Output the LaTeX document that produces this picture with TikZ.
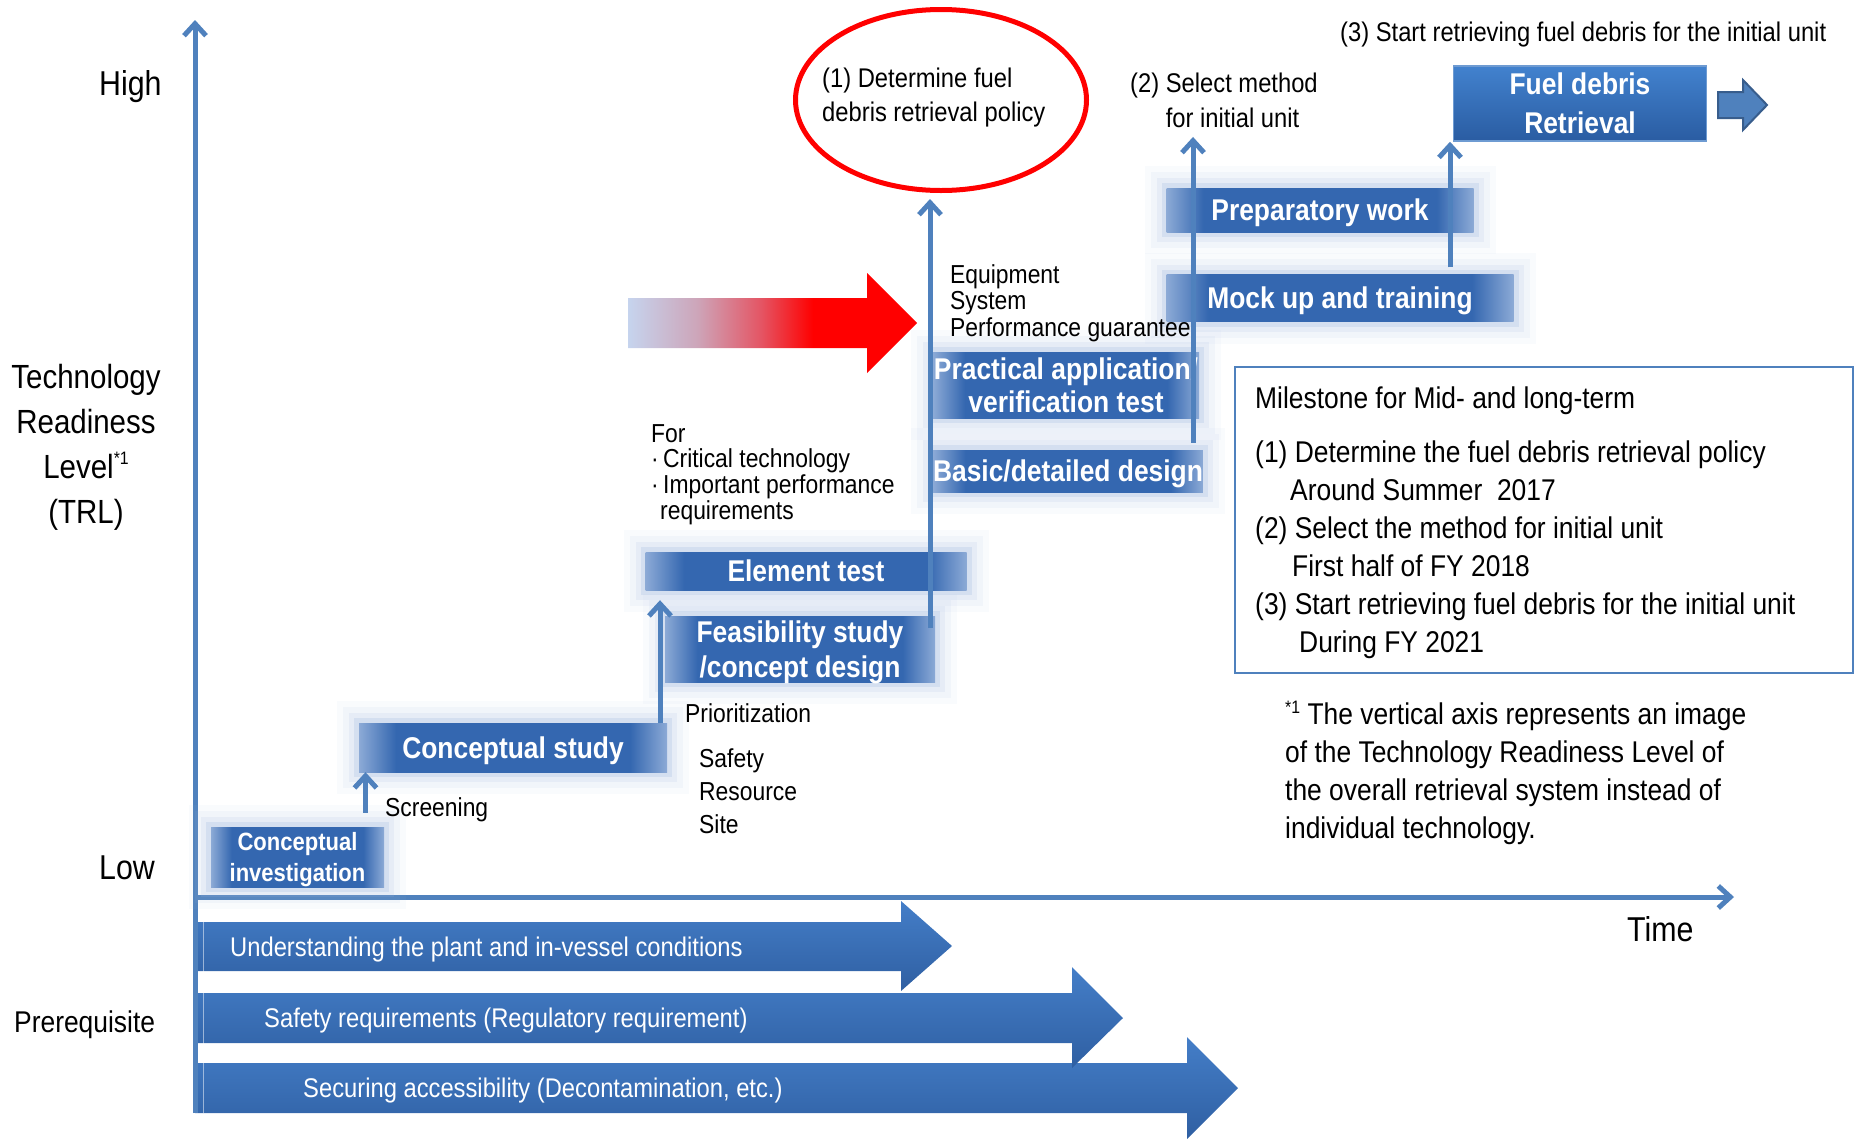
\documentclass[tikz,border=0pt]{standalone}
\usepackage{fontspec}
\setmainfont{Liberation Sans}[FakeStretch=0.88]
\usepackage{tikz}
\usetikzlibrary{arrows.meta,shapes.geometric}
\definecolor{axisblue}{RGB}{79,129,189}
\definecolor{barhi}{RGB}{68,126,200}
\definecolor{barlo}{RGB}{47,95,162}
\definecolor{stagecore}{RGB}{52,103,176}
\definecolor{stageedge}{RGB}{140,170,214}
\definecolor{stageglow}{RGB}{160,184,222}
\definecolor{fdtop}{RGB}{66,130,206}
\definecolor{fdbot}{RGB}{42,92,162}
\definecolor{fdline}{RGB}{110,155,210}
\definecolor{arrowline}{RGB}{56,93,140}
\definecolor{fadeblue}{RGB}{198,212,238}
\definecolor{fadepink}{RGB}{205,165,185}
\definecolor{fadered}{RGB}{228,85,100}
\pgfdeclarehorizontalshading{stagefade}{100bp}{color(0bp)=(stageedge); color(25bp)=(stageedge); color(31bp)=(stagecore); color(69bp)=(stagecore); color(75bp)=(stageedge); color(100bp)=(stageedge)}
\pgfdeclarehorizontalshading{redfade}{100bp}{color(0bp)=(fadeblue); color(25bp)=(fadeblue); color(37bp)=(fadepink); color(48bp)=(fadered); color(57bp)=(red); color(100bp)=(red)}
\newcommand\fsz[2]{\fontsize{#1}{#2}\selectfont}

\begin{document}
\begin{tikzpicture}[x=1pt, y=-1pt,
    txt/.style={inner sep=0pt, text depth=0pt, align=left},
    flow/.style={axisblue, line width=5pt, -{Straight Barb[length=12pt,width=22pt]}},
    stage/.style={shade, shading=stagefade, text=white, align=center, inner sep=0pt,
        text depth=0pt, font=\bfseries\fsz{30}{36},
        preaction={draw=stageglow, line width=44pt, draw opacity=0.06},
        preaction={draw=stageglow, line width=32pt, draw opacity=0.09},
        preaction={draw=stageglow, line width=20pt, draw opacity=0.14},
        preaction={draw=stageglow, line width=10pt, draw opacity=0.25}}]
    \useasboundingbox (0,0) rectangle (1855,1138);

    \shade[top color=barhi, bottom color=barlo] (195,1063) -- (1187,1063) -- (1187,1037) -- (1238,1088) -- (1187,1139) -- (1187,1113) -- (195,1113) -- cycle;
    \shade[top color=barhi, bottom color=barlo] (195,993) -- (1072,993) -- (1072,967) -- (1123,1018) -- (1072,1068) -- (1072,1043) -- (195,1043) -- cycle;
    \shade[top color=barhi, bottom color=barlo] (195,922) -- (901,922) -- (901,901) -- (952,946) -- (901,991) -- (901,971) -- (195,971) -- cycle;
    \draw[white, opacity=0.5, line width=1pt] (203,922) -- (203,1113);
    \node[txt, anchor=west, text=white, font=\fsz{27}{32}] (b1) at (230,947) {Understanding the plant and in-vessel conditions};
    \node[txt, anchor=west, text=white, font=\fsz{27}{32}] (b2) at (264,1018) {Safety requirements (Regulatory requirement)};
    \node[txt, anchor=west, text=white, font=\fsz{27}{32}] (b3) at (303,1088) {Securing accessibility (Decontamination, etc.)};

    \coordinate (o) at (195,897);
    \coordinate (ybot) at (195,1113);
    \coordinate (ytop) at (195,20);
    \coordinate (xend) at (1734,897);
    \draw[flow] (ybot) -- (ytop);
    \draw[flow] (o) -- (xend);

    \node[txt, anchor=west, font=\fsz{34.5}{40}] (high) at (99,83) {High};
    \node[txt, anchor=west, font=\fsz{34.5}{40}] (low) at (99,868) {Low};
    \node[txt, anchor=west, font=\fsz{34.5}{40}] (time) at (1627,929) {Time};
    \node[txt, anchor=west, font=\fsz{30}{36}] (pre) at (14,1022) {Prerequisite};
    \node[txt, anchor=north, align=center, font=\fsz{33.5}{45}] (trl) at (86,364) {Technology\\Readiness\\Level\raisebox{14pt}{\fsz{18}{18}*1}\\(TRL)};

    \shade[shading=redfade] (628,298) -- (867,298) -- (867,273) -- (917,323) -- (867,373) -- (867,348) -- (628,348) -- cycle;

    \node[stage, minimum width=173pt, minimum height=60pt, font=\bfseries\fsz{25}{31}] (ci) at (297.5,857) {Conceptual\\investigation};
    \node[stage, minimum width=308pt, minimum height=49pt] (cs) at (513,747.5) {Conceptual study};
    \node[stage, minimum width=270pt, minimum height=66pt, font=\bfseries\fsz{30}{35}] (fs) at (800,649) {Feasibility study\\/concept design};
    \node[stage, minimum width=321pt, minimum height=38pt] (et) at (806,571) {Element test};
    \node[stage, minimum width=266pt, minimum height=66pt, font=\bfseries\fsz{30}{33}] (pa) at (1066,385) {Practical application/\\verification test};
    \node[stage, minimum width=266pt, minimum height=42pt] (bd) at (1068,471) {Basic/detailed design};
    \node[stage, minimum width=307pt, minimum height=44pt] (pw) at (1320,210) {Preparatory work};
    \node[stage, minimum width=347pt, minimum height=47pt] (mt) at (1340,298) {Mock up and training};

    \node[draw=fdline, line width=1.5pt, top color=fdtop, bottom color=fdbot, minimum width=253pt, minimum height=75pt,
        inner sep=0pt, text depth=0pt, align=center, text=white, font=\bfseries\fsz{30}{39}] (fd) at (1580,103.5) {Fuel debris\\Retrieval};
    \draw[fill=axisblue, draw=arrowline, line width=2pt] (1718,92) -- (1743,92) -- (1743,80) -- (1767,105) -- (1743,130) -- (1743,118) -- (1718,118) -- cycle;

    \node[ellipse, draw=red, line width=5pt, minimum width=291pt, minimum height=181pt, inner sep=0pt] (pol) at (941,100) {};
    \node[txt, anchor=north west, font=\fsz{27}{34}] (poltxt) at (822,67.5) {(1) Determine fuel\\debris retrieval policy};
    \node[txt, anchor=north west, font=\fsz{27}{35}] (sel) at (1130,73) {(2) Select method\\\phantom{(2) }for initial unit};
    \node[txt, anchor=north west, font=\fsz{27}{32}] (start) at (1340,22) {(3) Start retrieving fuel debris for the initial unit};

    \node[txt, anchor=west, font=\fsz{26}{30}] (scr) at (385,807) {Screening};
    \node[txt, anchor=west, font=\fsz{26}{30}] (prio) at (685,713) {Prioritization};
    \node[txt, anchor=north west, font=\fsz{26}{33}] (crit) at (699,748) {Safety\\Resource\\Site};
    \node[txt, anchor=north west, font=\fsz{26}{25.7}] (for) at (651,424) {For\\·\,Critical technology\\·\,Important performance\\\hspace*{9pt}requirements};
    \node[txt, anchor=north west, font=\fsz{26}{26.5}] (equip) at (950,264) {Equipment\\System\\Performance guarantee};

    \draw[flow, shorten <=14pt] ([xshift=68pt]ci.north) -- ([xshift=68pt]ci.north |- cs.south);
    \draw[flow, shorten >=10pt] ([xshift=147pt]cs.north) -- ([xshift=147pt]cs.north |- et.south);
    \coordinate (v1) at (930,628);
    \draw[flow, shorten >=6pt] (v1) -- (v1 |- pol.south);
    \draw[flow, shorten <=7pt, shorten >=9pt] ([xshift=125pt]bd.north) -- ([xshift=125pt]bd.north |- sel.south);
    \draw[flow, shorten <=7pt] ([xshift=110pt]mt.north) -- ([xshift=110pt]mt.north |- fd.south);

    \draw[axisblue, line width=2pt] (1235,367) rectangle (1853,673);
    \node[txt, anchor=north west, font=\fsz{30}{38}] (ms) at (1255,387) {Milestone for Mid- and long-term\\[16pt](1) Determine the fuel debris retrieval policy\\\hspace*{35pt}Around Summer~ 2017\\(2) Select the method for initial unit\\\hspace*{37pt}First half of FY 2018\\(3) Start retrieving fuel debris for the initial unit\\\hspace*{44pt}During FY 2021};
    \node[txt, anchor=north west, font=\fsz{30}{38}] (note) at (1285,701) {\raisebox{11pt}{\fsz{18}{18}*1} The vertical axis represents an image\\of the Technology Readiness Level of\\the overall retrieval system instead of\\individual technology.};
\end{tikzpicture}
\end{document}
